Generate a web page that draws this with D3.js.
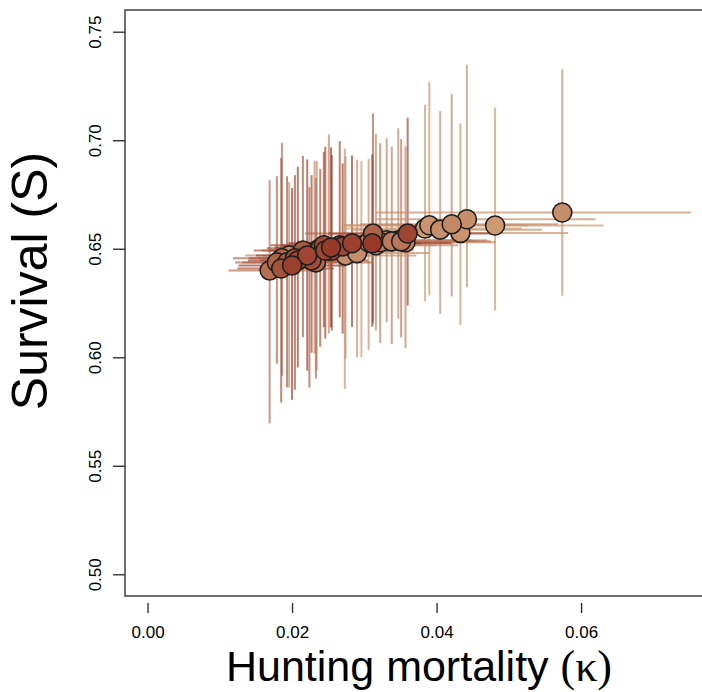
<!DOCTYPE html>
<html>
<head>
<meta charset="utf-8">
<script src="https://cdn.jsdelivr.net/npm/d3@7"></script>
<style>
  html, body { margin: 0; padding: 0; background: #ffffff; }
  svg { display: block; }
</style>
</head>
<body>
<svg id="chart" width="702" height="692"></svg>
<script>
// ---- data ----
const kappa    = [0.0169,0.0179,0.0185,0.0186,0.0193,0.0196,0.0200,0.0204,0.0208,0.0215,0.0221,0.0224,0.0227,0.0231,0.0234,0.0233,0.0239,0.0244,0.0246,0.0251,0.0254,0.0255,0.0266,0.0270,0.0273,0.0274,0.0283,0.0290,0.0296,0.0306,0.0311,0.0312,0.0316,0.0322,0.0331,0.0338,0.0347,0.0351,0.0357,0.0360,0.0384,0.0390,0.0405,0.0421,0.0433,0.0442,0.0481,0.0574];
const kappaLo  = [0.0112,0.0121,0.0124,0.0118,0.0131,0.0135,0.0126,0.0140,0.0139,0.0147,0.0150,0.0153,0.0156,0.0160,0.0158,0.0161,0.0165,0.0170,0.0168,0.0174,0.0176,0.0178,0.0185,0.0188,0.0190,0.0192,0.0195,0.0200,0.0205,0.0212,0.0216,0.0218,0.0220,0.0225,0.0230,0.0236,0.0240,0.0244,0.0248,0.0250,0.0268,0.0272,0.0283,0.0294,0.0302,0.0316,0.0270,0.0316];
const kappaHi  = [0.0236,0.0243,0.0258,0.0250,0.0262,0.0266,0.0275,0.0272,0.0281,0.0290,0.0296,0.0302,0.0305,0.0310,0.0318,0.0312,0.0322,0.0330,0.0334,0.0340,0.0345,0.0342,0.0360,0.0364,0.0368,0.0372,0.0380,0.0390,0.0400,0.0415,0.0420,0.0425,0.0430,0.0438,0.0448,0.0455,0.0470,0.0475,0.0482,0.0487,0.0518,0.0527,0.0546,0.0568,0.0582,0.0620,0.0631,0.0752];
const survival = [0.6400,0.6437,0.6409,0.6456,0.6437,0.6469,0.6423,0.6456,0.6446,0.6492,0.6469,0.6456,0.6446,0.6469,0.6492,0.6437,0.6502,0.6516,0.6492,0.6492,0.6506,0.6492,0.6516,0.6511,0.6492,0.6469,0.6525,0.6480,0.6516,0.6530,0.6525,0.6570,0.6516,0.6530,0.6539,0.6534,0.6539,0.6534,0.6530,0.6570,0.6593,0.6608,0.6588,0.6613,0.6573,0.6636,0.6607,0.6667];
const survLo   = [0.5695,0.5970,0.5792,0.5915,0.5861,0.5860,0.5804,0.5850,0.5953,0.6092,0.5938,0.5860,0.6021,0.6017,0.5938,0.5901,0.6049,0.6138,0.6086,0.6110,0.6138,0.6123,0.6184,0.6109,0.5855,0.5994,0.6140,0.6000,0.6000,0.6034,0.6141,0.6155,0.6123,0.6066,0.6161,0.6061,0.6177,0.6092,0.6043,0.6238,0.6258,0.6284,0.6200,0.6280,0.6149,0.6323,0.6215,0.6284];
const survHi   = [0.6816,0.6834,0.6918,0.6988,0.6834,0.6807,0.6780,0.6839,0.6878,0.6928,0.6912,0.6784,0.6839,0.6904,0.6904,0.6825,0.6867,0.6947,0.6970,0.7027,0.6967,0.6932,0.6996,0.6894,0.6962,0.6927,0.6930,0.6910,0.6904,0.6914,0.6935,0.7124,0.7029,0.6986,0.7009,0.6970,0.7055,0.7006,0.6972,0.7104,0.7163,0.7268,0.7135,0.7213,0.7078,0.7348,0.7150,0.7328];
const shade    = [0.55,0.65,0.80,0.60,0.70,0.30,0.95,0.80,0.90,0.75,0.90,0.70,0.85,0.30,0.40,0.60,0.80,0.85,0.90,0.35,1.00,0.85,0.85,0.90,0.25,0.30,0.95,0.30,0.20,0.30,1.00,0.65,0.35,0.45,0.40,0.45,0.35,0.50,0.40,0.90,0.20,0.25,0.30,0.35,0.25,0.30,0.20,0.30];
const xTicks = [0.00, 0.02, 0.04, 0.06];
const yTicks = [0.50, 0.55, 0.60, 0.65, 0.70, 0.75];
const xTitle = "Hunting mortality ";
const xSymbol = "(\u03BA)";
const yTitle = "Survival (S)";

const pts = kappa.map((k, i) => ({
  x: k, xlo: kappaLo[i], xhi: kappaHi[i],
  y: survival[i], ylo: survLo[i], yhi: survHi[i], s: shade[i]
}));

// ---- layout ----
const svg = d3.select("#chart");
const frame = { left: 125, top: 10, right: 712, bottom: 596 };
const x = d3.scaleLinear().domain([-0.00312, 0.07812]).range([frame.left, frame.right]);
const y = d3.scaleLinear().domain([0.49, 0.76]).range([frame.bottom, frame.top]);
const col = d3.scaleLinear().domain([0, 1]).range(["#dab286", "#983a29"]).interpolate(d3.interpolateRgb);

const sorted = pts.slice().sort((a, b) => a.s - b.s);

// error bars
const bars = svg.append("g").attr("class", "errorbars");
bars.selectAll("line.v").data(sorted).join("line")
  .attr("class", "v")
  .attr("x1", d => x(d.x)).attr("x2", d => x(d.x))
  .attr("y1", d => y(d.ylo)).attr("y2", d => y(d.yhi))
  .attr("stroke", d => col(d.s)).attr("stroke-opacity", 0.7).attr("stroke-width", 2);
bars.selectAll("line.h").data(sorted).join("line")
  .attr("class", "h")
  .attr("x1", d => x(d.xlo)).attr("x2", d => x(d.xhi))
  .attr("y1", d => y(d.y)).attr("y2", d => y(d.y))
  .attr("stroke", d => col(d.s)).attr("stroke-opacity", 0.7).attr("stroke-width", 2);

// points
svg.append("g").attr("class", "points")
  .selectAll("circle").data(sorted).join("circle")
  .attr("cx", d => x(d.x)).attr("cy", d => y(d.y)).attr("r", 9.5)
  .attr("fill", d => col(d.s)).attr("stroke", "#1e1e1e").attr("stroke-width", 1.6);

// frame
svg.append("rect")
  .attr("x", frame.left).attr("y", frame.top)
  .attr("width", frame.right - frame.left).attr("height", frame.bottom - frame.top)
  .attr("fill", "none").attr("stroke", "#333").attr("stroke-width", 1.4);

// x axis (ticks offset below frame, no axis line)
const xAxis = d3.axisBottom(x).tickValues(xTicks).tickFormat(d3.format(".2f"))
  .tickSizeOuter(0).tickSizeInner(10).tickPadding(13);
const gx = svg.append("g").attr("transform", `translate(0,${frame.bottom + 7})`).call(xAxis);
gx.select(".domain").remove();
gx.selectAll(".tick line").attr("stroke", "#333").attr("stroke-width", 1.4);
gx.selectAll(".tick text").attr("font-family", "Liberation Sans, Arial, sans-serif")
  .attr("font-size", 17).attr("fill", "#000");

// y axis
const yAxis = d3.axisLeft(y).tickValues(yTicks).tickFormat(d3.format(".2f"))
  .tickSizeOuter(0).tickSizeInner(12).tickPadding(0);
const gy = svg.append("g").attr("transform", `translate(${frame.left},0)`).call(yAxis);
gy.select(".domain").remove();
gy.selectAll(".tick line").attr("stroke", "#333").attr("stroke-width", 1.4);
gy.selectAll(".tick text")
  .attr("font-family", "Liberation Sans, Arial, sans-serif").attr("font-size", 17).attr("fill", "#000")
  .attr("x", null).attr("dy", null)
  .attr("text-anchor", "middle")
  .attr("transform", "translate(-30,0) rotate(-90)")
  .attr("y", 0).attr("dy", "0.35em");

// titles
const xt = svg.append("text")
  .attr("x", 419).attr("y", 681).attr("text-anchor", "middle")
  .attr("font-family", "Liberation Sans, Arial, sans-serif").attr("font-size", 43).attr("fill", "#000");
xt.append("tspan").text(xTitle);
xt.append("tspan").attr("font-family", "Liberation Serif, Times New Roman, serif").attr("font-size", 44).text(xSymbol);

svg.append("text")
  .attr("transform", "translate(47,281) rotate(-90)")
  .attr("text-anchor", "middle")
  .attr("font-family", "Liberation Sans, Arial, sans-serif").attr("font-size", 50).attr("fill", "#000")
  .text(yTitle);
</script>
</body>
</html>
